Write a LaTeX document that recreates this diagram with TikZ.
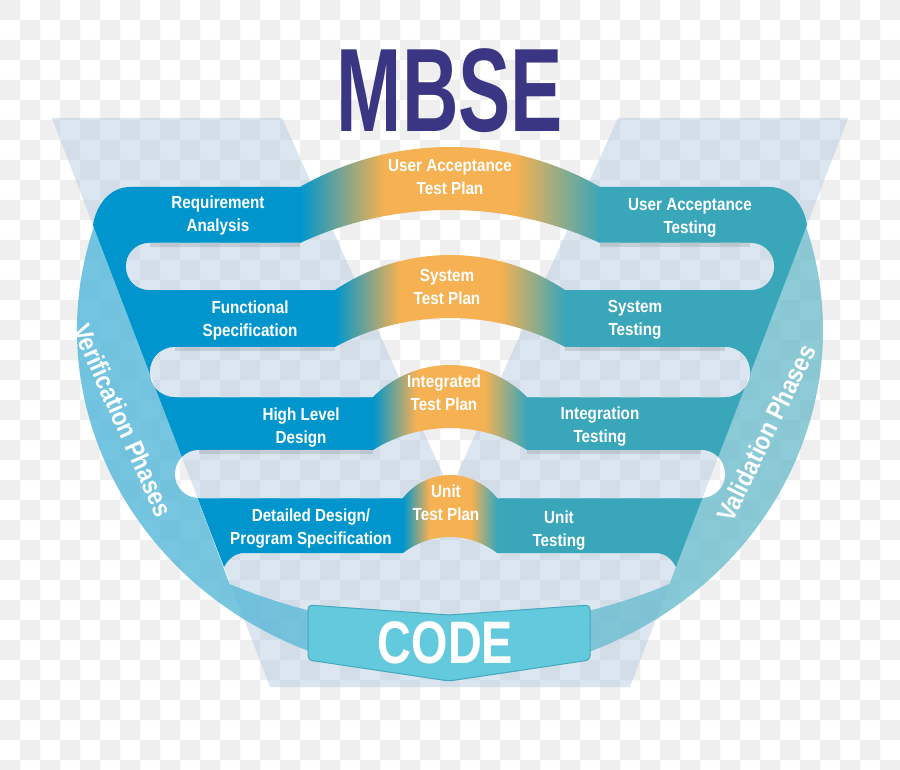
\documentclass[tikz,border=0pt]{standalone}
\usepackage{fontspec}
\newfontfamily\labfont[FakeStretch=0.87]{Liberation Sans}
\newfontfamily\ttlfont[FakeStretch=0.66]{Liberation Sans}
\newfontfamily\cdfont[FakeStretch=0.78]{Liberation Sans}
\definecolor{chk}{HTML}{EFEFEF}
\definecolor{vblue}{HTML}{B1C8DF}
\definecolor{bandL}{HTML}{0096CD}
\definecolor{bandR}{HTML}{3AA6BA}
\definecolor{orng}{HTML}{F5B152}
\definecolor{ringL}{HTML}{4FB6DC}
\definecolor{ringR}{HTML}{72BECC}
\definecolor{codefill}{HTML}{63C9DC}
\definecolor{codeedge}{HTML}{42A8BE}
\definecolor{mbse}{HTML}{3A3683}
\pgfdeclarehorizontalshading{archshade}{100bp}{color(0bp)=(bandL); color(25bp)=(bandL); color(39bp)=(orng); color(61bp)=(orng); color(75bp)=(bandR); color(100bp)=(bandR)}
\newcommand{\bgdraw}{%
  \fill[white] (0,0) rectangle (900,770);
  \fill[chk] \foreach \x in {0,40,...,880}{\foreach \y in {0,40,...,760}{(\x,\y) rectangle ++(20,20) (\x+20,\y+20) rectangle ++(20,20)}};
  \fill[vblue,fill opacity=0.44] (52,118) -- (282,118) -- (450,490) -- (618,118) -- (848,118) -- (630,687) -- (270,687) -- cycle;
}
\tikzset{
  lbl/.style={text=white,font=\labfont\bfseries\fontsize{17.5}{23}\selectfont,align=center,inner sep=0pt,text height=35.5pt,text depth=0pt},
  sidelbl/.style={text=white,font=\labfont\bfseries\fontsize{26}{28}\selectfont,inner sep=0pt,text height=18.6pt,text depth=0pt},
  archband/.style={shading=archshade},
  shadowL/.style={fill=black,fill opacity=0.10},
}
\begin{document}
\begin{tikzpicture}[x=1pt,y=1pt,yscale=-1]
\useasboundingbox (0,0) rectangle (900,770);
\bgdraw
% translucent ring
\shade[left color=ringL,right color=ringR,fill opacity=0.8]
  (94.5,225) arc[start angle=197.6,end angle=-17.6,x radius=373,y radius=347]
  -- (669.5,584) arc[start angle=67.3,end angle=112.7,radius=570] -- cycle;
% left comb
\fill[bandL] (300,187) -- (130,187) .. controls (110,187) and (96,205) .. (93,225)
  -- (224,567) .. controls (229,558) and (235,553) .. (245,553) -- (403,553)
  -- (403,474) -- (373,474) -- (373,372) -- (335,372) -- (335,266) -- (300,266) -- cycle;
% right comb
\fill[bandR] (600,187) -- (770,187) .. controls (790,187) and (804,205) .. (807,225)
  -- (676,567) .. controls (671,558) and (665,553) .. (655,553) -- (497,553)
  -- (497,474) -- (527,474) -- (527,372) -- (565,372) -- (565,266) -- (600,266) -- cycle;
% gaps
\begin{scope}
\clip (149.5,243) -- (750.5,243) arc[start angle=270,end angle=450,radius=23.5] -- (149.5,290) arc[start angle=90,end angle=270,radius=23.5] -- cycle
  (175,347) -- (725,347) arc[start angle=270,end angle=450,radius=25] -- (175,397) arc[start angle=90,end angle=270,radius=25] -- cycle
  (199,450) -- (701,450) arc[start angle=270,end angle=450,radius=24] -- (199,498) arc[start angle=90,end angle=270,radius=24] -- cycle;
\bgdraw
% soft shadows under the bands
\fill[shadowL] (150,243) rectangle (300,247);
\fill[shadowL] (600,243) rectangle (750,247);
\fill[shadowL] (175,347) rectangle (335,351);
\fill[shadowL] (565,347) rectangle (725,351);
\fill[shadowL] (199,450) rectangle (373,454);
\fill[shadowL] (527,450) rectangle (701,454);
\end{scope}
% arches
\shade[archband] (300,187) arc[start angle=240.14,end angle=299.86,radius=301.25] -- (600,243) arc[start angle=294.82,end angle=245.18,radius=357.4] -- cycle;
\shade[archband] (335,290) arc[start angle=236.15,end angle=303.85,radius=206.43] -- (565,347) arc[start angle=298.31,end angle=241.69,radius=242.52] -- cycle;
\shade[archband] (373,397) arc[start angle=224.87,end angle=315.13,radius=108.64] -- (527,450) arc[start angle=301.89,end angle=238.11,radius=145.75] -- cycle;
\shade[archband] (403,498) arc[start angle=217.85,end angle=322.15,radius=59.52] -- (497,553) arc[start angle=307.6,end angle=232.4,radius=77.03] -- cycle;
% CODE box
\filldraw[fill=codefill,draw=codeedge,line width=1pt,rounded corners=4pt] (308,605) -- (449,615) -- (590,605) -- (590,660) -- (449,681) -- (308,660) -- cycle;
\node[text=white,font=\cdfont\bfseries\fontsize{60}{60}\selectfont,inner sep=0pt,text height=43pt,text depth=0pt] (code) at (445.5,641.5) {CODE};
% title
\node[text=mbse,font=\ttlfont\bfseries\fontsize{118.7}{120}\selectfont,inner sep=0pt,text height=85pt,text depth=0pt] (title) at (450,89.5) {MBSE};
% labels
\node[lbl] (reqan) at (218,213.5) {Requirement\\Analysis};
\node[lbl] (funspec) at (250,318.5) {Functional\\Specification};
\node[lbl] (hld) at (301,425.5) {High Level\\Design};
\node[lbl] (dd) at (311,526.5) {Detailed Design/\\Program Specification};
\node[lbl] (uatp) at (450,176.5) {User Acceptance\\Test Plan};
\node[lbl] (stp) at (447,287) {System\\Test Plan};
\node[lbl] (itp) at (444,392.5) {Integrated\\Test Plan};
\node[lbl] (utp) at (446,503) {Unit\\Test Plan};
\node[lbl] (uat) at (690,215.5) {User Acceptance\\Testing};
\node[lbl] (st) at (635,318) {System\\Testing};
\node[lbl] (it) at (600,424.5) {Integration\\Testing};
\node[lbl] (ut) at (559,528.5) {Unit\\Testing};
\node[sidelbl,rotate=-66] (verif) at (123,420) {Verification Phases};
\node[sidelbl,rotate=64] (valid) at (766,433) {Validation Phases};
\end{tikzpicture}
\end{document}
